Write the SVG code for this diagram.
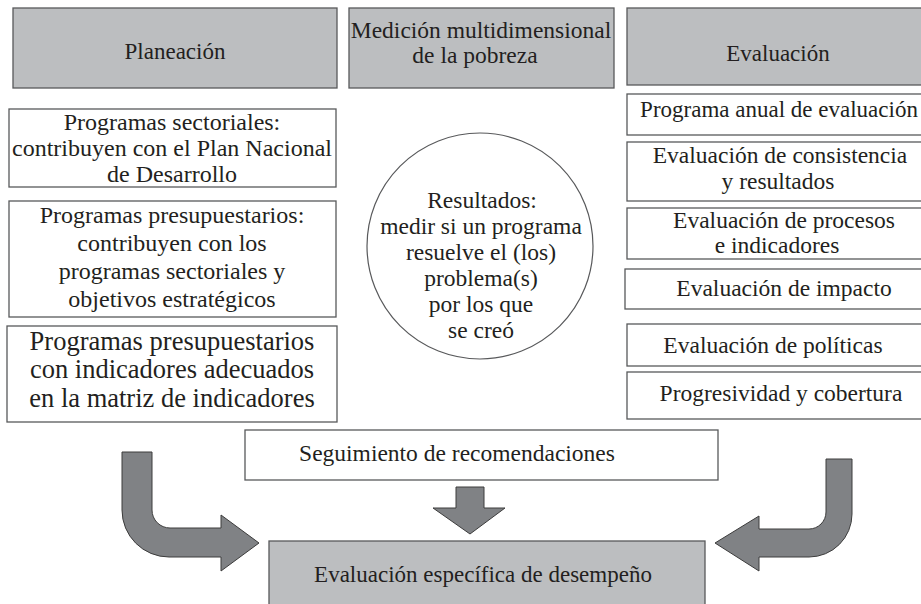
<svg xmlns="http://www.w3.org/2000/svg" width="921" height="604" viewBox="0 0 921 604">
<style>
.hd{fill:#bcbec0;stroke:#58595b;stroke-width:1.3}
.bx{fill:#ffffff;stroke:#58595b;stroke-width:1.3}
.ar{fill:#808285;stroke:#3c3c3c;stroke-width:1}
.t text{fill:#231f20;text-anchor:middle;font-size:23.5px}
.t text.l{font-size:24px}
.t text.big{font-size:26.5px}
.t text.s{font-size:23px}
</style>
<rect width="921" height="604" fill="#ffffff"/>
<g class="t" font-family="'Liberation Serif', 'Times New Roman', serif">
<g id="planeacion"><rect class="hd" x="13" y="8" width="324" height="80"/><text class="s" x="175" y="59">Planeación</text></g>
<g id="medicion"><rect class="hd" x="349" y="8" width="265" height="80"/><text x="481" y="38">Medición multidimensional</text><text x="475" y="63">de la pobreza</text></g>
<g id="evaluacion"><rect class="hd" x="627" y="8" width="300" height="77"/><text class="s" x="778" y="61">Evaluación</text></g>
<g id="sectoriales"><rect class="bx" x="9" y="109" width="327" height="78"/><text class="l" x="172" y="130">Programas sectoriales:</text><text class="l" x="172" y="156">contribuyen con el Plan Nacional</text><text class="l" x="172" y="182">de Desarrollo</text></g>
<g id="presupuestarios"><rect class="bx" x="9" y="201" width="327" height="116"/><text class="l" x="172" y="223">Programas presupuestarios:</text><text class="l" x="172" y="251">contribuyen con los</text><text class="l" x="172" y="279">programas sectoriales y</text><text class="l" x="172" y="307">objetivos estratégicos</text></g>
<g id="indicadores"><rect class="bx" x="7" y="326" width="330" height="96"/><text class="big" x="172" y="350">Programas presupuestarios</text><text class="big" x="172" y="378">con indicadores adecuados</text><text class="big" x="172" y="407">en la matriz de indicadores</text></g>
<g id="resultados"><circle cx="480" cy="246" r="113" fill="#ffffff" stroke="#58595b" stroke-width="1.2"/><text x="482" y="208">Resultados:</text><text x="481" y="234">medir si un programa</text><text x="481" y="260">resuelve el (los)</text><text x="481" y="286">problema(s)</text><text x="481" y="312">por los que</text><text x="481" y="338">se creó</text></g>
<g id="anual"><rect class="bx" x="627" y="94" width="300" height="41"/><text class="s" x="779" y="117">Programa anual de evaluación</text></g>
<g id="consistencia"><rect class="bx" x="627" y="142" width="300" height="59"/><text x="780" y="163">Evaluación de consistencia</text><text x="778" y="189">y resultados</text></g>
<g id="procesos"><rect class="bx" x="627" y="208" width="300" height="51"/><text x="784" y="228">Evaluación de procesos</text><text x="777" y="253">e indicadores</text></g>
<g id="impacto"><rect class="bx" x="625" y="269" width="300" height="40"/><text x="784" y="296">Evaluación de impacto</text></g>
<g id="politicas"><rect class="bx" x="627" y="324" width="300" height="42"/><text x="773" y="353">Evaluación de políticas</text></g>
<g id="progresividad"><rect class="bx" x="627" y="372" width="300" height="47"/><text x="781" y="401">Progresividad y cobertura</text></g>
<g id="seguimiento"><rect class="bx" x="245" y="430" width="473" height="50"/><text x="457" y="461">Seguimiento de recomendaciones</text></g>
<g id="especifica"><rect class="hd" x="269" y="541" width="436" height="70"/><text class="s" x="483" y="582">Evaluación específica de desempeño</text></g>
</g>
<g id="connectors">
<path class="ar" d="M122,452 H152 V510 A18,18 0 0 0 170,528 H221 V515 L259,543 L221,571 V557 H169 A47,47 0 0 1 122,510 Z"/>
<path class="ar" d="M852,459 H826 V512 A17,17 0 0 1 809,529 H759 V516 L715,543 L759,571 V557 H809 A43,43 0 0 0 852,514 Z"/>
<path class="ar" d="M456,487 H484 V508 H505 L470,534 L433,508 H456 Z"/>
</g>
</svg>
